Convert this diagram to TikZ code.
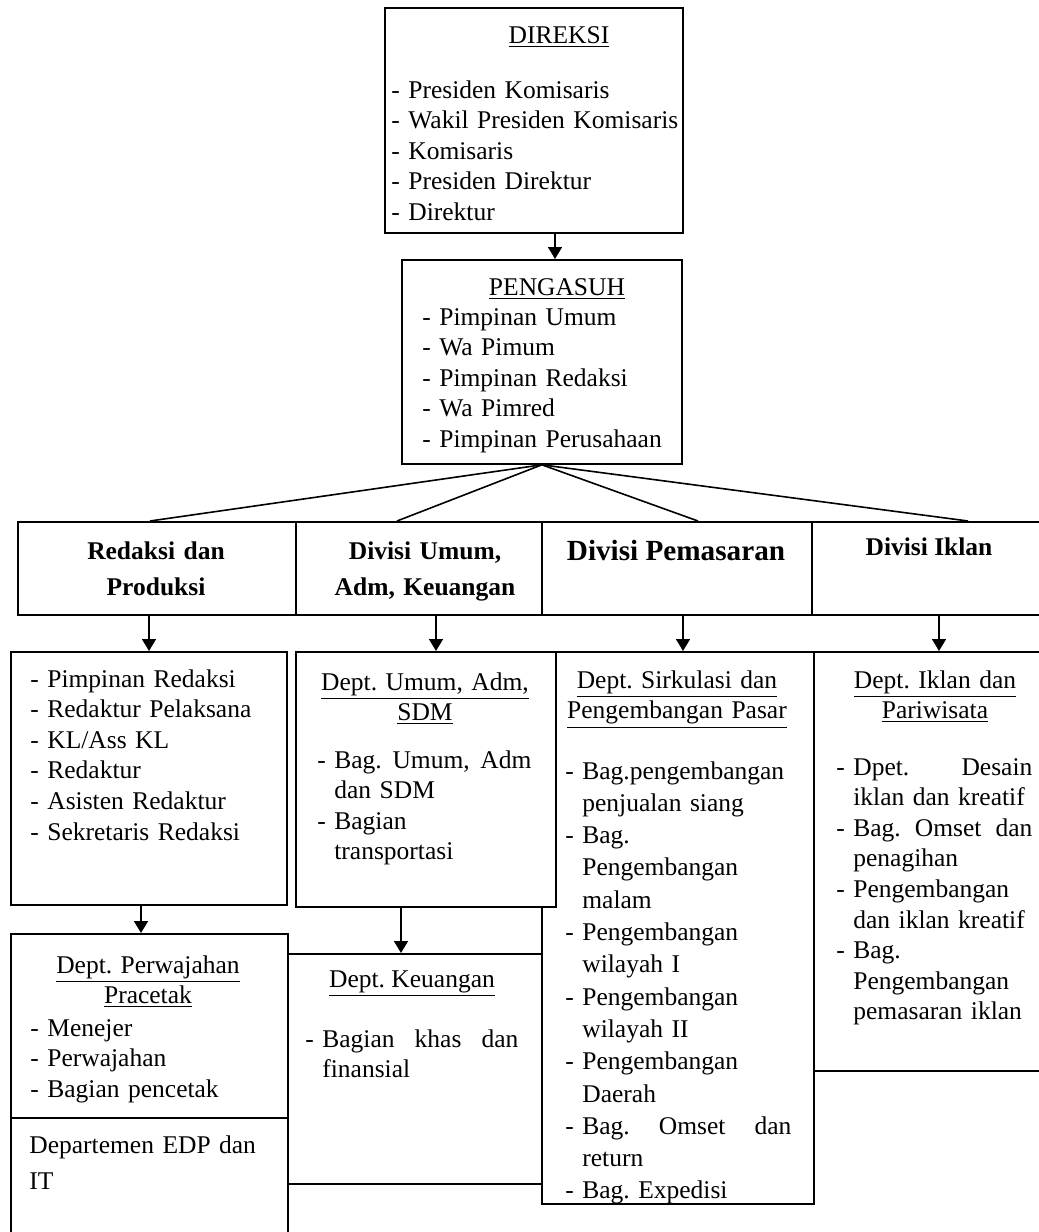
\documentclass[tikz,border=0pt]{standalone}
\usepackage{fontspec}
\setmainfont{Liberation Serif}
\usetikzlibrary{arrows.meta}
\newcommand{\isi}{\fontsize{12.75pt}{15.3pt}\selectfont\frenchspacing}
\newcommand{\butir}{\makebox[8.5pt][l]{-}}
\newcommand{\lanjut}{\hspace*{8.5pt}}
\begin{document}
\begin{tikzpicture}[x=0.5pt, y=-0.5pt, >={Triangle[length=6pt,width=7pt]}]
\tikzstyle{kotak}=[rectangle,draw,line width=0.9pt,fill=white,anchor=north west,inner sep=0pt]
\tikzstyle{isi}=[anchor=base west,align=left,inner sep=0pt,font=\isi]
\tikzstyle{judul}=[anchor=base,align=center,inner sep=0pt,font=\isi]
\tikzstyle{divisi}=[anchor=base,align=center,inner sep=0pt,font={\fontsize{12.75pt}{18pt}\selectfont\bfseries\frenchspacing}]
\tikzstyle{garis}=[line width=0.8pt]
\useasboundingbox (0,0) rectangle (1039,1232);
\node[kotak,minimum width=149pt,minimum height=112.5pt] (direksi) at (384,7) {};
\node[judul] (direksi-j) at (559,43) {\underline{DIREKSI}};
\node[isi,text width=145pt] (direksi-t) at (391,98) {- Presiden Komisaris\\- Wakil Presiden Komisaris\\- Komisaris\\- Presiden Direktur\\- Direktur};
\node[kotak,minimum width=140pt,minimum height=102pt] (pengasuh) at (401,259) {};
\node[judul] (pengasuh-j) at (557,295) {\underline{PENGASUH}};
\node[isi,text width=130pt] (pengasuh-t) at (422,325) {- Pimpinan Umum\\- Wa Pimum\\- Pimpinan Redaksi\\- Wa Pimred\\- Pimpinan Perusahaan};
\coordinate (direksi-a) at ([shift={(171,0)}]direksi.south west);
\draw[->,garis] (direksi-a) -- (direksi-a |- pengasuh.north);
\node[kotak,minimum width=139pt,minimum height=46.5pt] (divredaksi) at (17,521) {};
\node[kotak,minimum width=123pt,minimum height=46.5pt] (divumum) at (295,521) {};
\node[kotak,minimum width=135pt,minimum height=46.5pt] (divpasar) at (541,521) {};
\node[kotak,minimum width=117pt,minimum height=46.5pt] (diviklan) at (811,521) {};
\node[divisi,text width=130pt] (divredaksi-t) at (156,559) {Redaksi dan\\Produksi};
\node[divisi,text width=120pt] (divumum-t) at (425,559) {Divisi Umum,\\Adm, Keuangan};
\node[divisi,font={\fontsize{14.6pt}{18pt}\selectfont\bfseries}] (divpasar-t) at (676,560) {Divisi Pemasaran};
\node[divisi] (diviklan-t) at (929,555) {Divisi Iklan};
\draw[garis] (pengasuh.south) -- ([shift={(133,0)}]divredaksi.north west);
\draw[garis] (pengasuh.south) -- ([shift={(102,0)}]divumum.north west);
\draw[garis] (pengasuh.south) -- ([shift={(157,0)}]divpasar.north west);
\draw[garis] (pengasuh.south) -- ([shift={(157,0)}]diviklan.north west);
\node[kotak,minimum width=136pt,minimum height=276pt] (pasar) at (541,651) {};
\node[kotak,minimum width=138pt,minimum height=126.5pt] (redlist) at (10,651) {};
\node[kotak,minimum width=130pt,minimum height=127.5pt] (umumdept) at (295,651) {};
\node[kotak,minimum width=116pt,minimum height=209.5pt] (iklandept) at (813,651) {};
\node[isi,text width=130pt] (redlist-t) at (30,687) {- Pimpinan Redaksi\\- Redaktur Pelaksana\\- KL/Ass KL\\- Redaktur\\- Asisten Redaktur\\- Sekretaris Redaksi};
\node[judul,text width=125pt] (umumdept-j) at (425,690) {\underline{Dept. Umum, Adm,}\\\underline{SDM}};
\node[isi,text width=107pt] (umumdept-t) at (317,768) {\butir Bag.\hfill Umum,\hfill Adm\\ \lanjut dan SDM\\ \butir Bagian\\ \lanjut transportasi};
\node[judul,text width=130pt] (pasar-j) at (677,688) {\underline{Dept. Sirkulasi dan}\\\underline{Pengembangan Pasar}};
\begin{scope}
\clip (pasar.north west) rectangle (pasar.south east);
\node[isi,text width=113pt,font={\fontsize{12.75pt}{16.15pt}\selectfont\frenchspacing}] (pasar-t) at (565,779) {\butir Bag.pengembangan\\ \lanjut penjualan siang\\ \butir Bag.\\ \lanjut Pengembangan\\ \lanjut malam\\ \butir Pengembangan\\ \lanjut wilayah I\\ \butir Pengembangan\\ \lanjut wilayah II\\ \butir Pengembangan\\ \lanjut Daerah\\ \butir Bag.\hfill Omset\hfill dan\\ \lanjut return\\ \butir Bag. Expedisi};
\end{scope}
\node[judul,text width=110pt] (iklandept-j) at (935,688) {\underline{Dept. Iklan dan}\\\underline{Pariwisata}};
\node[isi,text width=98pt] (iklandept-t) at (836,775) {\butir Dpet.\hfill Desain\\ \lanjut iklan dan kreatif\\ \butir Bag.\hfill Omset\hfill dan\\ \lanjut penagihan\\ \butir Pengembangan\\ \lanjut dan iklan kreatif\\ \butir Bag.\\ \lanjut Pengembangan\\ \lanjut pemasaran iklan};
\coordinate (a1) at ([shift={(132,0)}]divredaksi.south west);
\coordinate (a2) at ([shift={(141,0)}]divumum.south west);
\coordinate (a3) at ([shift={(142,0)}]divpasar.south west);
\coordinate (a4) at ([shift={(128,0)}]diviklan.south west);
\draw[->,garis] (a1) -- (a1 |- redlist.north);
\draw[->,garis] (a2) -- (a2 |- umumdept.north);
\draw[->,garis] (a3) -- (a3 |- pasar.north);
\draw[->,garis] (a4) -- (a4 |- iklandept.north);
\node[kotak,minimum width=138.5pt,minimum height=92pt] (perwajahan) at (10,933) {};
\node[kotak,minimum width=138.5pt,minimum height=70pt] (edp) at (10,1117) {};
\node[kotak,minimum width=127pt,minimum height=115pt] (keuangan) at (287,953) {};
\node[judul,text width=130pt] (perwajahan-j) at (148,973) {\underline{Dept. Perwajahan}\\\underline{Pracetak}};
\node[isi,text width=120pt] (perwajahan-t) at (30,1036) {\butir Menejer\\\butir Perwajahan\\\butir Bagian pencetak};
\node[isi,text width=130pt] (edp-t) at (29,1153) {Departemen EDP dan\\[2.8pt]IT};
\node[judul] (keuangan-j) at (412,987) {\underline{Dept. Keuangan}};
\node[isi,text width=106.5pt] (keuangan-t) at (305,1047) {\butir Bagian\hfill khas\hfill dan\\ \lanjut finansial};
\coordinate (b1) at ([shift={(131,0)}]redlist.south west);
\coordinate (b2) at ([shift={(106,0)}]umumdept.south west);
\draw[->,garis] (b1) -- (b1 |- perwajahan.north);
\draw[->,garis] (b2) -- (b2 |- keuangan.north);
\end{tikzpicture}
\end{document}
